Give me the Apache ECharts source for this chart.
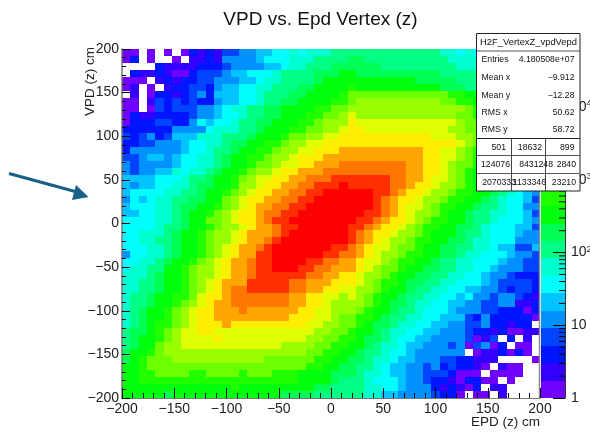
<!DOCTYPE html>
<html><head><meta charset="utf-8">
<style>html,body{margin:0;padding:0;background:#fff}#c{width:590px;height:432px}</style>
<script src="https://cdn.jsdelivr.net/npm/echarts@6/dist/echarts.min.js"></script>
</head><body><div id="c"></div>
<script>
const _ = null;
const binWidth = 8;
const xTickStart = -200, xTickEnd = 200;
const bandColors = ['#7000ff','#3300ff','#0015ff','#0044ff','#0091ff','#00c3ff','#00fffc','#00ffd0','#00ff84','#00ff55','#00ff0d','#1fff00','#6bff00','#99ff00','#e0ff00','#ffee00','#ffa600','#ff7700','#ff2f00','#ff0000'];
const zBandEdges = [1,1.74,3.02,5.25,9.12,15.8,27.5,47.9,83.2,145,251,437,759,1318,2291,3981,6918,12023,20893,36308,63096];
const zMinorTicks = [2,3,4,5,6,7,8,9,20,30,40,50,60,70,80,90,200,300,400,500,600,700,800,900,2000,3000,4000,5000,6000,7000,8000,9000,20000,30000,40000,50000,60000];
// colour band of each 8 x 8 cm bin, top row (VPD 192..200) first, EPD -200 to 200
const bandRows = [
[0,0,_,0,_,0,_,0,2,1,2,1,3,3,4,4,5,5,6,6,7,6,7,7,7,8,8,8,8,8,8,8,8,8,8,8,8,8,7,7,6,7,6,6,5,5,5,5,5,4],
[0,2,_,0,_,_,0,_,1,1,2,1,4,4,4,4,5,6,6,6,7,7,7,8,8,8,8,9,9,8,8,8,8,8,8,8,8,8,8,7,7,7,7,6,6,5,5,5,5,5],
[_,_,_,_,2,1,1,1,1,2,2,2,3,4,4,4,4,5,5,6,7,7,8,8,8,9,9,9,9,9,9,8,8,8,8,8,8,8,8,8,7,7,7,7,6,6,6,5,5,5],
[_,2,1,1,2,1,0,0,2,3,3,3,4,5,5,6,6,6,7,8,8,8,8,9,9,9,10,10,9,9,9,9,9,9,9,9,9,9,8,8,8,8,8,7,7,6,6,6,5,5],
[0,0,0,_,1,2,1,2,2,3,3,4,4,4,5,5,6,7,7,8,8,8,8,9,10,10,10,10,10,10,10,10,10,10,10,9,9,9,9,9,8,8,8,8,7,7,6,6,6,5],
[0,1,_,0,_,1,2,2,3,3,2,4,5,5,6,6,7,7,8,8,8,9,9,10,10,10,10,11,10,10,10,10,10,10,10,10,10,10,9,9,9,8,8,8,8,7,7,6,6,6],
[_,1,_,0,2,2,1,2,3,4,2,5,5,5,6,6,7,8,8,8,9,9,10,10,10,10,11,12,12,12,12,12,12,12,12,12,12,12,12,11,11,10,10,9,8,8,7,7,6,6],
[0,0,_,1,3,2,3,2,3,2,2,4,5,5,6,6,7,8,8,9,9,10,10,10,10,11,11,12,13,13,13,13,13,13,13,13,13,13,12,12,11,11,10,9,9,8,8,7,7,6],
[0,0,_,0,3,2,3,3,3,4,4,5,6,7,7,8,8,9,9,10,10,10,10,11,11,12,12,13,13,13,13,13,13,13,13,13,13,13,13,13,13,12,11,10,9,9,8,8,7,7],
[0,2,1,1,2,2,2,2,3,4,4,5,6,6,7,8,8,9,9,10,10,10,11,11,12,12,13,14,13,13,13,13,13,13,13,13,13,13,13,13,12,12,11,10,10,9,8,8,7,7],
[0,2,2,2,3,3,2,2,4,6,5,6,6,7,8,8,9,9,10,10,10,11,11,12,13,13,13,15,14,14,14,14,14,14,14,14,14,14,14,14,13,12,12,11,10,9,9,8,8,7],
[2,2,2,2,2,2,4,4,4,4,6,7,7,7,8,8,9,10,10,10,11,11,12,12,13,13,14,15,15,14,14,14,14,14,14,14,14,14,14,13,13,12,12,11,10,10,9,8,8,7],
[3,2,3,4,2,3,5,5,5,7,7,7,8,8,8,9,10,10,10,11,12,12,13,13,14,14,15,15,15,15,15,15,15,15,15,15,15,14,14,14,13,13,12,11,11,10,9,9,8,8],
[2,2,3,3,4,4,4,5,6,6,7,7,8,9,9,10,10,11,11,12,13,13,14,14,15,15,15,15,15,15,15,15,15,15,15,15,15,15,15,15,14,13,12,11,11,10,10,9,8,8],
[2,4,4,4,4,4,4,5,6,6,7,8,8,9,10,10,11,11,12,13,13,14,14,15,15,15,16,16,16,16,16,16,16,16,16,16,15,15,14,14,13,12,11,11,10,10,9,8,8,7],
[3,3,4,5,5,4,5,6,6,7,7,8,9,10,10,11,11,12,13,13,14,15,15,15,16,16,16,16,16,16,16,16,16,16,16,16,15,15,14,14,13,12,11,10,10,9,9,8,8,7],
[4,3,4,4,4,4,5,6,6,7,7,8,9,10,10,11,12,12,13,14,14,15,15,16,16,16,17,17,17,17,17,17,17,17,16,16,15,15,14,13,12,12,11,10,10,9,8,8,7,7],
[4,3,4,4,5,5,7,6,7,7,8,9,10,10,11,12,13,13,14,15,15,16,16,16,17,17,17,17,17,17,17,17,17,17,16,16,15,15,14,13,12,11,10,10,9,9,8,8,7,7],
[5,5,5,5,6,6,6,7,8,8,9,10,10,11,12,13,14,14,15,15,16,16,17,17,17,18,18,18,18,18,18,18,17,17,16,16,15,14,14,13,12,11,10,9,9,8,8,7,7,6],
[5,4,5,5,6,6,7,7,8,9,9,10,10,11,13,13,14,15,15,16,16,17,17,18,18,18,19,18,18,18,18,18,17,17,16,15,15,14,13,13,12,11,10,9,8,8,7,7,6,5],
[5,6,6,6,6,7,7,8,8,9,10,10,11,12,13,14,15,15,16,16,17,17,18,18,19,19,19,19,19,19,18,18,17,16,15,15,14,13,13,12,11,11,10,10,9,8,7,6,5,4],
[4,6,5,6,7,7,8,8,9,9,10,10,12,13,14,15,15,16,16,17,17,18,18,19,19,19,19,19,19,19,18,17,16,15,15,14,13,13,12,11,11,10,10,9,8,7,6,6,5,3],
[5,6,6,6,7,7,8,9,9,10,10,11,12,13,14,15,16,16,17,17,18,18,19,19,19,19,19,19,19,19,18,17,16,15,14,14,13,12,11,11,10,10,9,8,8,7,6,6,4,4],
[5,5,6,6,7,7,8,9,10,10,11,12,13,14,15,15,16,17,17,18,18,19,19,19,19,19,19,19,19,18,18,17,16,15,14,13,13,12,11,10,10,9,8,8,7,7,6,6,5,3],
[6,6,6,6,7,7,8,9,10,10,12,12,13,14,15,15,16,17,18,18,19,19,19,19,19,19,19,19,18,18,17,16,15,15,14,13,12,11,11,10,10,9,8,8,7,6,6,6,5,4],
[6,6,6,6,7,8,8,9,10,10,11,12,13,13,14,15,16,16,17,18,18,19,19,19,19,19,19,18,18,17,16,15,15,14,13,12,11,11,10,10,9,9,8,7,6,6,6,5,5,3],
[6,6,7,7,7,8,9,10,10,11,12,13,13,14,15,16,16,16,17,18,19,19,19,19,19,19,19,18,17,16,15,15,14,13,13,12,11,10,10,10,9,8,8,7,6,6,6,5,4,4],
[6,6,7,7,8,8,9,10,10,11,12,13,13,14,15,16,16,17,18,19,19,19,19,19,19,19,19,18,17,16,15,14,13,13,12,11,11,10,10,9,9,8,7,7,6,6,6,4,4,4],
[6,6,6,7,7,8,9,10,10,11,12,13,14,15,16,16,17,18,19,19,19,19,19,19,19,18,18,17,16,15,14,14,13,12,12,11,10,10,9,9,8,8,7,7,6,5,5,3,3,5],
[4,6,6,7,7,8,9,10,10,11,12,13,14,15,16,16,18,18,19,19,19,19,19,19,18,18,17,17,16,15,14,13,13,12,11,11,10,10,9,9,8,7,7,6,6,6,5,4,4,3],
[6,6,7,7,8,9,10,10,11,12,13,14,15,16,16,17,18,18,19,19,19,19,18,18,17,17,16,16,15,14,14,13,12,11,11,10,10,9,8,8,7,7,6,6,6,5,4,4,3,3],
[6,7,7,8,8,10,10,11,12,13,13,14,15,16,16,17,18,18,19,19,19,18,18,17,17,16,16,16,15,14,13,12,12,11,10,10,9,9,8,8,7,7,6,6,5,4,4,4,3,3],
[7,7,7,8,9,10,10,11,12,13,13,14,15,16,16,17,18,18,18,18,18,18,17,17,16,16,15,15,14,13,13,12,11,10,10,9,9,8,8,7,7,6,6,5,4,4,3,2,2,2],
[7,7,8,8,9,10,10,11,12,13,14,15,16,16,16,18,18,18,18,18,17,17,16,16,16,15,15,15,14,13,12,11,11,10,9,9,8,8,7,7,6,6,6,5,4,3,3,3,3,2],
[7,7,8,8,9,10,10,11,12,13,14,15,16,17,17,18,18,18,18,18,17,17,16,16,15,15,14,14,13,13,12,11,10,10,9,8,8,7,7,6,6,5,5,4,4,3,2,3,3,2],
[7,8,8,9,10,10,11,11,12,14,15,15,16,17,17,17,17,17,17,17,16,16,15,15,14,14,13,14,13,12,11,10,10,9,8,8,7,7,6,6,5,6,4,4,3,4,4,3,2,1],
[7,8,8,9,10,10,11,12,13,14,15,16,16,17,17,17,17,17,17,17,16,16,15,15,14,13,13,13,13,12,11,10,9,9,8,7,7,6,6,5,5,4,4,3,3,4,4,1,1,2],
[7,8,9,10,10,11,12,13,14,15,15,16,16,16,17,16,16,16,16,16,16,15,15,14,14,13,13,13,12,11,10,10,9,8,8,7,6,6,6,5,4,4,4,3,3,2,2,2,0,2],
[7,8,9,10,10,11,12,13,14,15,15,16,16,16,16,16,16,16,16,16,15,15,15,14,14,13,12,12,11,11,10,9,8,8,7,7,6,6,5,5,5,3,2,4,2,2,2,2,2,0],
[7,8,9,10,11,11,12,13,14,15,15,15,16,15,15,15,15,15,15,15,15,15,14,14,13,13,12,12,11,10,9,9,8,7,7,6,6,5,5,4,4,3,3,4,2,2,1,2,2,_],
[8,9,9,10,11,12,13,14,14,15,15,14,14,14,14,14,14,14,14,14,14,14,14,13,13,12,12,11,10,10,9,8,7,7,6,6,5,5,4,4,4,3,2,2,1,2,0,0,1,1],
[8,9,10,10,11,12,13,14,14,14,14,15,14,14,14,14,14,14,14,14,14,14,13,13,12,12,11,11,10,9,9,8,7,6,6,5,5,4,4,4,4,3,0,1,3,_,2,_,1,_],
[8,9,10,10,12,13,13,14,14,14,14,14,14,14,14,14,14,14,14,13,13,13,13,12,12,11,11,10,10,9,8,7,7,6,5,5,4,4,4,3,4,0,3,4,0,2,_,0,0,_],
[9,10,10,11,12,13,13,13,13,13,13,13,13,13,13,13,13,13,13,13,13,13,12,12,11,11,10,10,9,8,8,7,6,6,5,4,4,4,4,4,4,_,0,1,1,2,0,2,0,_],
[9,10,11,12,12,12,13,13,13,13,13,13,13,13,13,13,13,12,12,12,12,12,12,11,11,10,10,9,9,8,7,7,6,5,5,4,4,4,3,3,2,2,1,1,1,_,_,_,_,0],
[10,10,11,12,12,12,12,12,12,12,12,12,12,12,12,12,12,12,12,12,12,12,11,11,10,10,9,9,8,8,7,6,5,5,4,4,3,4,2,3,2,2,1,0,_,1,0,0,_,_],
[10,10,11,11,12,12,12,12,11,11,12,12,12,12,11,12,12,12,11,11,11,10,10,10,10,9,9,9,8,7,7,6,5,5,4,4,3,3,3,2,0,0,0,_,0,0,0,0,_,_],
[10,10,11,11,11,11,11,11,11,11,11,11,11,11,11,11,11,11,11,11,11,10,10,10,10,9,8,8,8,7,6,6,6,5,4,4,3,2,2,1,0,2,2,0,0,_,0,_,_,_],
[10,10,10,10,10,10,10,10,10,10,10,10,10,11,10,10,10,10,10,10,10,10,10,9,9,8,8,8,8,7,7,6,6,5,4,4,4,2,1,2,1,0,2,_,1,1,_,_,_,_],
[10,10,10,10,10,9,10,10,10,10,10,10,10,10,10,10,10,10,10,9,9,9,9,8,8,8,8,8,8,7,7,5,5,4,4,4,4,3,2,2,0,_,0,0,_,1,_,_,_,_]
];
const statsTitle = 'H2F_VertexZ_vpdVepd';
const statsLabels = ['Entries','Mean x','Mean y','RMS x','RMS y'];
const statsValues = ['4.180508e+07','\u22129.912','\u221212.28','50.62','58.72'];
const statsTable = [['501','18632','899'],['124076','8431248','2840'],['2070333','1133346','23210']];

const heatData = [];
bandRows.forEach((row, r) => row.forEach((band, c) => {
  if (band !== _) heatData.push([xTickStart + binWidth * (c + 0.5), xTickEnd - binWidth * (r + 0.5), band]);
}));
const minus = v => String(v).replace('-', '\u2212');
const font = '"Liberation Sans", Arial, sans-serif';
const ink = '#000';

function renderBin(params, api) {
  const a = api.coord([api.value(0) - binWidth / 2, api.value(1) + binWidth / 2]);
  const b = api.coord([api.value(0) + binWidth / 2, api.value(1) - binWidth / 2]);
  const x = Math.round(a[0]), y = Math.round(a[1]);
  return {type: 'rect', shape: {x, y, width: Math.round(b[0]) - x, height: Math.round(b[1]) - y},
    style: {fill: bandColors[api.value(2)]}};
}
function renderBarBand(params, api) {
  const lo = api.coord([0, api.value(1)]), hi = api.coord([1, api.value(2)]);
  const y = Math.round(hi[1]);
  return {type: 'rect', shape: {x: lo[0], y, width: hi[0] - lo[0], height: Math.round(lo[1]) - y},
    style: {fill: bandColors[api.value(3)]}};
}
function renderMinorTick(params, api) {
  const p = api.coord([1, api.value(1)]);
  return {type: 'line', shape: {x1: p[0], y1: p[1], x2: p[0] - 6, y2: p[1]}, style: {stroke: ink, lineWidth: 1}};
}

const statsGraphics = [];
const txt = (x, y, text, size, align) => statsGraphics.push({type: 'text', x, y, z: 102, silent: true,
  style: {text, fill: '#111', font: size + 'px ' + font, textAlign: align || 'left', textVerticalAlign: 'middle'}});
const seg = (x1, y1, x2, y2, w, col) => statsGraphics.push({type: 'line', z: 101, silent: true,
  shape: {x1, y1, x2, y2}, style: {stroke: col || '#333', lineWidth: w || 1}});
statsGraphics.push({type: 'rect', z: 100, silent: true, shape: {x: 476.5, y: 33.5, width: 103.5, height: 157.5},
  style: {fill: '#fff', stroke: '#222', lineWidth: 1}});
seg(477, 51, 580, 51, 1.2, '#555'); seg(477, 138.5, 580, 138.5, 1, '#222');
seg(477, 155.5, 580, 155.5, 1.2, '#555'); seg(477, 173.5, 580, 173.5, 1.2, '#555');
seg(511.5, 138.5, 511.5, 191, 1, '#444'); seg(545.5, 138.5, 545.5, 191, 1, '#444');
txt(528.5, 42.3, statsTitle, 9.4, 'center');
const statY = [59.3, 77.3, 95.3, 112.7, 129.5];
statsLabels.forEach((s, i) => { txt(481.5, statY[i], s, 8.7); txt(574.5, statY[i], statsValues[i], 8.7, 'right'); });
txt(506, 147.3, statsTable[0][0], 8.7, 'right'); txt(542, 147.3, statsTable[0][1], 8.7, 'right'); txt(574.5, 147.3, statsTable[0][2], 8.7, 'right');
txt(510, 164.7, statsTable[1][0], 8.7, 'right'); txt(553, 164.7, statsTable[1][1], 8.7, 'right'); txt(576, 164.7, statsTable[1][2], 8.7, 'right');
txt(516, 182.7, statsTable[2][0], 8.7, 'right'); txt(546, 182.7, statsTable[2][1], 8.7, 'right'); txt(576, 182.7, statsTable[2][2], 8.7, 'right');

const arrow = [
  {type: 'line', z: 110, silent: true, shape: {x1: 9, y1: 173.5, x2: 77, y2: 192}, style: {stroke: '#176087', lineWidth: 3.2}},
  {type: 'polygon', z: 110, silent: true, shape: {points: [[88.5, 197], [76, 185], [72, 200]]}, style: {fill: '#176087'}},
  {type: 'line', z: 5, silent: true, shape: {x1: 539.5, y1: 49, x2: 539.5, y2: 398}, style: {stroke: '#8a8a8a', lineWidth: 1.5}}
];

const chart = echarts.init(document.getElementById('c'), null, {renderer: 'canvas'});
chart.setOption({
  animation: false, backgroundColor: '#fff',
  title: {text: 'VPD vs. Epd Vertex (z)', left: 320.5, top: 10, padding: 0, textAlign: 'center',
    textStyle: {fontFamily: font, fontSize: 19, fontWeight: 'normal', color: '#111'}},
  grid: [
    {left: 122, top: 49, width: 418, height: 349, outerBoundsMode: 'none', containLabel: false},
    {left: 541, top: 49, width: 24, height: 349, outerBoundsMode: 'none', containLabel: false}
  ],
  xAxis: [
    {type: 'value', gridIndex: 0, min: xTickStart, max: xTickEnd, interval: 50, z: 5,
      name: 'EPD (z) cm', nameLocation: 'end', nameGap: 0, nameMoveOverlap: false,
      nameTextStyle: {fontFamily: font, fontSize: 13.5, color: '#222', align: 'right', verticalAlign: 'top', padding: [17, 0, 0, 0]},
      axisLine: {onZero: false, lineStyle: {color: '#777', width: 1}}, splitLine: {show: false},
      axisTick: {inside: true, length: 10, lineStyle: {color: ink}},
      minorTick: {show: true, splitNumber: 5, length: 5, lineStyle: {color: ink}},
      axisLabel: {fontFamily: font, fontSize: 14, color: '#222', margin: 4, formatter: minus, showMinLabel: true, showMaxLabel: true, hideOverlap: false}},
    {type: 'value', gridIndex: 1, min: 0, max: 1, show: false}
  ],
  yAxis: [
    {type: 'value', gridIndex: 0, min: xTickStart, max: xTickEnd, interval: 50, z: 5,
      name: 'VPD (z) cm', nameLocation: 'end', nameGap: 2, nameRotate: 90, nameMoveOverlap: false,
      nameTextStyle: {fontFamily: font, fontSize: 13.5, color: '#222', align: 'right', verticalAlign: 'bottom', padding: [0, 0, 25, 0]},
      axisLine: {onZero: false, lineStyle: {color: '#777', width: 1.5}}, splitLine: {show: false},
      axisTick: {inside: true, length: 8, lineStyle: {color: ink}},
      minorTick: {show: true, splitNumber: 5, length: 4, lineStyle: {color: ink}},
      axisLabel: {fontFamily: font, fontSize: 14, color: '#222', margin: 3, formatter: minus, showMinLabel: true, showMaxLabel: true, hideOverlap: false}},
    {type: 'log', logBase: 10, gridIndex: 1, position: 'right', min: 1, max: 63096, z: 5,
      axisLine: {show: true, onZero: false, lineStyle: {color: '#333', width: 1}}, splitLine: {show: false},
      axisTick: {show: true, inside: true, length: 12, lineStyle: {color: ink, width: 1}},
      axisLabel: {fontFamily: font, fontSize: 14, color: '#222', margin: 6, hideOverlap: false,
        formatter: v => {
          const k = Math.round(Math.log10(v));
          if (Math.abs(Math.log10(v) - k) > 1e-6) return '';
          return k === 0 ? '1' : k === 1 ? '10' : '{b|10}{s|' + k + '}';
        },
        rich: {b: {fontFamily: font, fontSize: 14, color: '#222'}, s: {fontFamily: font, fontSize: 9.5, color: '#222', verticalAlign: 'bottom', padding: [0, 0, 7, 0]}}}}
  ],
  series: [
    {type: 'custom', name: 'VPD vs EPD', xAxisIndex: 0, yAxisIndex: 0, z: 2, clip: false, silent: true,
      encode: {x: 0, y: 1}, renderItem: renderBin, data: heatData},
    {type: 'custom', name: 'palette', xAxisIndex: 1, yAxisIndex: 1, z: 2, clip: false, silent: true,
      encode: {x: 0, y: 1}, renderItem: renderBarBand,
      data: bandColors.map((c, k) => [0, zBandEdges[k], zBandEdges[k + 1], k])},
    {type: 'custom', name: 'z minor ticks', xAxisIndex: 1, yAxisIndex: 1, z: 3, clip: false, silent: true,
      encode: {x: 0, y: 1}, renderItem: renderMinorTick, data: zMinorTicks.map(v => [1, v])}
  ],
  graphic: {elements: arrow.concat(statsGraphics)}
});
</script></body></html>
